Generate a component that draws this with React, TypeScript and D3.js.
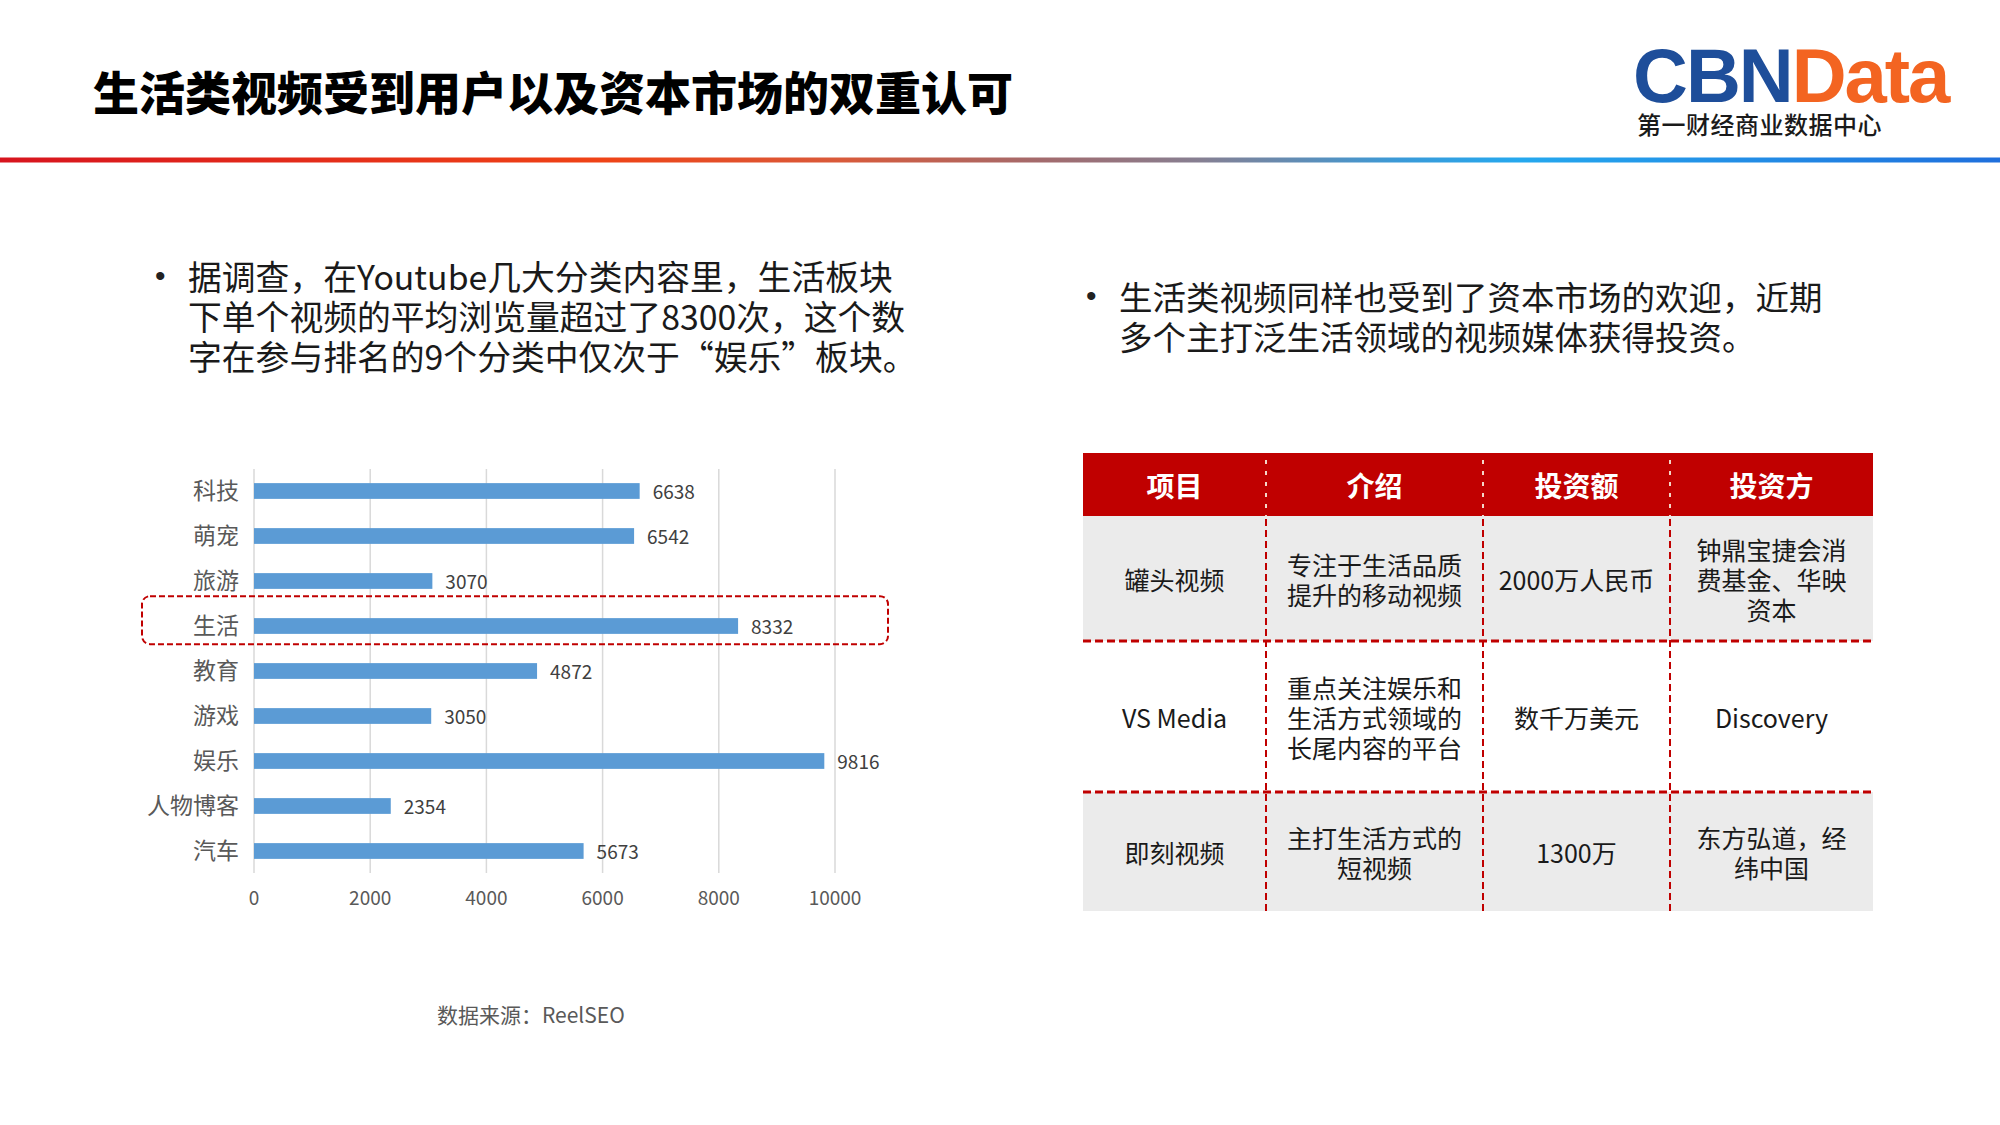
import React, { useEffect, useRef } from 'react';
import * as d3 from 'd3';

// chart data
const categories = ['科技', '萌宠', '旅游', '生活', '教育', '游戏', '娱乐', '人物博客', '汽车'];
const views = [6638, 6542, 3070, 8332, 4872, 3050, 9816, 2354, 5673];
const xTicks = [0, 2000, 4000, 6000, 8000, 10000];
const highlight = '生活';

// table data
const tableHeaders = ['项目', '介绍', '投资额', '投资方'];
const projects = ['罐头视频', 'VS Media', '即刻视频'];
const intros = [
  ['专注于生活品质', '提升的移动视频'],
  ['重点关注娱乐和', '生活方式领域的', '长尾内容的平台'],
  ['主打生活方式的', '短视频'],
];
const amounts = ['2000万人民币', '数千万美元', '1300万'];
const investors = [['钟鼎宝捷会消', '费基金、华映', '资本'], ['Discovery'], ['东方弘道，经', '纬中国']];

const title = '生活类视频受到用户以及资本市场的双重认可';
const leftBullet = [
  '据调查，在Youtube几大分类内容里，生活板块',
  '下单个视频的平均浏览量超过了8300次，这个数',
  '字在参与排名的9个分类中仅次于“娱乐”板块。',
];
const rightBullet = ['生活类视频同样也受到了资本市场的欢迎，近期', '多个主打泛生活领域的视频媒体获得投资。'];
const source = '数据来源：ReelSEO';

const FONT = '"Noto Sans CJK SC", "Noto Sans", sans-serif';

const App = () => {
  const ref = useRef(null);

  useEffect(() => {
    const svg = d3.select(ref.current)
      .append('svg')
      .attr('width', 2000)
      .attr('height', 1125)
      .style('position', 'absolute')
      .style('left', 0)
      .style('top', 0)
      .style('background', '#fff')
      .style('font-family', FONT);

    // title
    svg.append('text')
      .attr('x', 93).attr('y', 110)
      .attr('font-size', 46).attr('font-weight', 900)
      .attr('fill', '#000')
      .text(title);

    // logo
    const logo = svg.append('text')
      .attr('x', 1633).attr('y', 102)
      .attr('font-family', '"Liberation Sans", Arial, sans-serif')
      .attr('font-size', 76).attr('font-weight', 700)
      .attr('letter-spacing', -2);
    logo.append('tspan').attr('fill', '#1e4e9a').text('CBN');
    logo.append('tspan').attr('fill', '#f36421').text('Data');
    svg.append('text')
      .attr('x', 1637).attr('y', 123)
      .attr('dominant-baseline', 'central')
      .attr('font-size', 24).attr('font-weight', 500)
      .attr('letter-spacing', 0.5)
      .attr('fill', '#1a1a1a')
      .text('第一财经商业数据中心');

    // gradient rule
    const defs = svg.append('defs');
    const grad = defs.append('linearGradient').attr('id', 'rule');
    [
      [0, '#d7141e'], [0.3, '#ef4316'], [0.42, '#d95a3a'], [0.52, '#a36a6c'],
      [0.6, '#867f92'], [0.7, '#3a9ad8'], [0.76, '#25a8ee'], [1, '#1f6fdc'],
    ].forEach(([o, c]) => grad.append('stop').attr('offset', o).attr('stop-color', c));
    svg.append('rect')
      .attr('x', 0).attr('y', 157.5).attr('width', 2000).attr('height', 5)
      .attr('fill', 'url(#rule)');

    // bullets
    const bullet = (x, y0, lines, size) => {
      svg.append('text')
        .attr('x', x - 33).attr('y', y0)
        .attr('dominant-baseline', 'central')
        .attr('font-family', '"Liberation Sans", Arial, sans-serif')
        .attr('font-size', 30).attr('fill', '#222')
        .text('•');
      svg.append('g').selectAll('text')
        .data(lines)
        .join('text')
        .attr('x', x)
        .attr('y', (d, i) => y0 + i * 40)
        .attr('dominant-baseline', 'central')
        .attr('font-size', size)
        .attr('fill', '#1a1a1a')
        .text(d => d);
    };
    bullet(188, 275, leftBullet, 33.8);
    bullet(1119, 295, rightBullet, 33.5);

    // bar chart
    const x = d3.scaleLinear().domain([0, 10000]).range([254, 835]);
    const y = d3.scaleBand().domain(categories).range([468.5, 873.5])
      .paddingInner(0.65).paddingOuter(0.325);
    const bw = y.bandwidth();
    const chart = svg.append('g');

    chart.append('g').selectAll('line')
      .data(xTicks)
      .join('line')
      .attr('x1', d => x(d)).attr('x2', d => x(d))
      .attr('y1', 469).attr('y2', 873)
      .attr('stroke', '#d9d9d9').attr('stroke-width', 1.5);

    chart.append('g').selectAll('text')
      .data(xTicks)
      .join('text')
      .attr('x', d => x(d)).attr('y', 896)
      .attr('text-anchor', 'middle').attr('dominant-baseline', 'central')
      .attr('font-size', 19).attr('fill', '#595959')
      .text(d => d);

    chart.append('g').selectAll('rect')
      .data(views)
      .join('rect')
      .attr('x', x(0))
      .attr('y', (d, i) => y(categories[i]))
      .attr('width', d => x(d) - x(0))
      .attr('height', bw)
      .attr('fill', '#5b9bd5');

    chart.append('g').selectAll('text')
      .data(views)
      .join('text')
      .attr('x', d => x(d) + 13)
      .attr('y', (d, i) => y(categories[i]) + bw / 2 - 1)
      .attr('dominant-baseline', 'central')
      .attr('font-size', 19).attr('fill', '#404040')
      .text(d => d);

    chart.append('g').selectAll('text')
      .data(categories)
      .join('text')
      .attr('x', 239)
      .attr('y', d => y(d) + bw / 2 - 2)
      .attr('text-anchor', 'end').attr('dominant-baseline', 'central')
      .attr('font-size', 23).attr('fill', '#595959')
      .text(d => d);

    chart.append('rect')
      .attr('x', 142).attr('y', y(highlight) - 22)
      .attr('width', 746).attr('height', 48)
      .attr('rx', 8)
      .attr('fill', 'none')
      .attr('stroke', '#c00000').attr('stroke-width', 2)
      .attr('stroke-dasharray', '6,3');

    svg.append('text')
      .attr('x', 437).attr('y', 1014)
      .attr('dominant-baseline', 'central')
      .attr('font-size', 21).attr('fill', '#595959')
      .text(source);

    // table
    const colEdges = [1083, 1266, 1483, 1670, 1873];
    const rowEdges = [453, 516, 641, 792, 911];
    const table = svg.append('g');
    table.append('rect')
      .attr('x', colEdges[0]).attr('y', rowEdges[0])
      .attr('width', colEdges[4] - colEdges[0]).attr('height', rowEdges[1] - rowEdges[0])
      .attr('fill', '#c00000');
    [0, 2].forEach(r => table.append('rect')
      .attr('x', colEdges[0]).attr('y', rowEdges[r + 1])
      .attr('width', colEdges[4] - colEdges[0]).attr('height', rowEdges[r + 2] - rowEdges[r + 1])
      .attr('fill', '#ebebeb'));

    // vertical separators
    colEdges.slice(1, 4).forEach(cx => {
      table.append('line')
        .attr('x1', cx).attr('x2', cx).attr('y1', rowEdges[0]).attr('y2', rowEdges[1])
        .attr('stroke', '#f3d6c8').attr('stroke-width', 2);
      table.append('line')
        .attr('x1', cx).attr('x2', cx).attr('y1', rowEdges[0]).attr('y2', rowEdges[4])
        .attr('stroke', '#c00000').attr('stroke-width', 2)
        .attr('stroke-dasharray', '7,4');
    });
    // horizontal separators
    [rowEdges[2], rowEdges[3]].forEach(ry => table.append('line')
      .attr('x1', colEdges[0]).attr('x2', colEdges[4]).attr('y1', ry).attr('y2', ry)
      .attr('stroke', '#c00000').attr('stroke-width', 3)
      .attr('stroke-dasharray', '8,4'));

    const colMid = i => (colEdges[i] + colEdges[i + 1]) / 2;
    const rowMid = i => (rowEdges[i] + rowEdges[i + 1]) / 2;

    table.append('g').selectAll('text')
      .data(tableHeaders)
      .join('text')
      .attr('x', (d, i) => colMid(i)).attr('y', rowMid(0))
      .attr('text-anchor', 'middle').attr('dominant-baseline', 'central')
      .attr('font-size', 28).attr('font-weight', 700).attr('fill', '#fff')
      .text(d => d);

    const cell = (col, row, lines) => {
      const cy = rowMid(row + 1);
      table.append('g').selectAll('text')
        .data(lines)
        .join('text')
        .attr('x', colMid(col))
        .attr('y', (d, i) => cy + (i - (lines.length - 1) / 2) * 30)
        .attr('text-anchor', 'middle').attr('dominant-baseline', 'central')
        .attr('font-size', 25).attr('fill', '#1a1a1a')
        .text(d => d);
    };
    projects.forEach((p, r) => {
      cell(0, r, [p]);
      cell(1, r, intros[r]);
      cell(2, r, [amounts[r]]);
      cell(3, r, investors[r]);
    });

    return () => {
      d3.select(ref.current).selectAll('svg').remove();
    };
  }, []);

  return <div ref={ref} />;
};

export default App;
